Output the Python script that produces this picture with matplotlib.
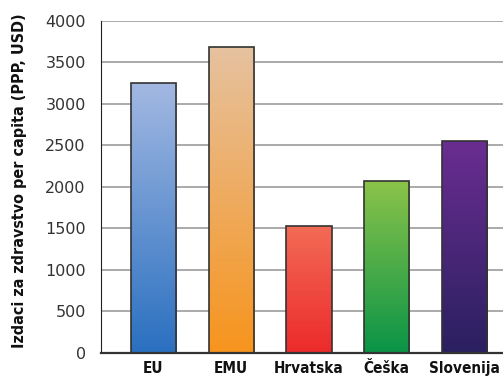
import matplotlib.pyplot as plt
import numpy as np
from matplotlib.colors import LinearSegmentedColormap

countries = ["EU", "EMU", "Hrvatska", "Češka", "Slovenija"]
spending = [3250, 3690, 1530, 2070, 2550]
top_colors = ["#a2b8e2", "#e6c2a0", "#f26b55", "#8bc34a", "#6a2d91"]
bottom_colors = ["#2a70c0", "#f7941d", "#ec2a2a", "#0a9447", "#2a2060"]
y_ticks = [0, 500, 1000, 1500, 2000, 2500, 3000, 3500, 4000]

fig = plt.figure(figsize=(5.03, 3.8), dpi=100)
ax = fig.add_axes([0.2008, 0.0711, 0.7992, 0.8737])

x = np.arange(len(countries))
bars = ax.bar(x, spending, width=0.58, color="none", edgecolor="#333333",
              linewidth=1.2, zorder=3)

# vertical gradient inside each bar
for bar, c_top, c_bot in zip(bars, top_colors, bottom_colors):
    cmap = LinearSegmentedColormap.from_list("g", [c_bot, c_top])
    x0, y0 = bar.get_x(), bar.get_y()
    w, h = bar.get_width(), bar.get_height()
    grad = np.linspace(0, 1, 256).reshape(-1, 1)
    im = ax.imshow(grad, cmap=cmap, origin="lower", aspect="auto",
                   extent=[x0, x0 + w, y0, y0 + h], zorder=2)
    im.set_clip_path(bar)

ax.set_xlim(-0.675, 4.495)
ax.set_ylim(0, 4000)
ax.set_yticks(y_ticks)
ax.set_xticks(x)
ax.set_xticklabels(countries, fontweight="bold", fontsize=11,
                   fontstretch="condensed", color="#111111")
for lbl in ax.get_yticklabels():
    lbl.set_fontsize(11.5)
    lbl.set_color("#333333")
ax.tick_params(axis="y", length=0, pad=11)
ax.tick_params(axis="x", length=0, pad=6)

ax.grid(axis="y", color="#aaaaaa", linewidth=1.4, zorder=0)
ax.set_axisbelow(True)
for side in ["top", "right"]:
    ax.spines[side].set_visible(False)
ax.spines["left"].set_color("#222222")
ax.spines["bottom"].set_color("#333333")
ax.spines["bottom"].set_linewidth(1.6)

ax.set_ylabel("Izdaci za zdravstvo per capita (PPP, USD)", fontweight="bold",
              fontsize=11.5, fontstretch="condensed", color="#111111")
ax.yaxis.set_label_coords(-0.185, 0.52)

fig.savefig("out.png", dpi=100)
